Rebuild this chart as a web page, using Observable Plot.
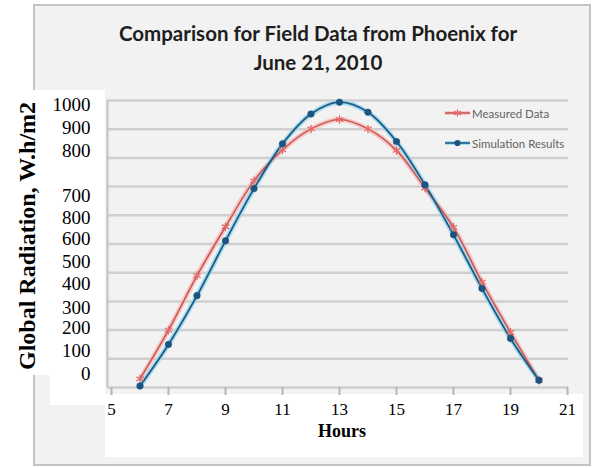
<!DOCTYPE html>
<html>
<head>
<meta charset="utf-8">
<script src="https://cdn.jsdelivr.net/npm/d3@7"></script>
<script src="https://cdn.jsdelivr.net/npm/@observablehq/plot@0.6"></script>
<style>
  html, body { margin: 0; padding: 0; background: #ffffff; }
  #wrap { position: relative; width: 595px; height: 468px; overflow: hidden; }
  .abs { position: absolute; }
  #frame { left: 33px; top: 4px; width: 554px; height: 458px; border: 2px solid #c4c4c4; background: #f2f2f2; }
  .white { background: #ffffff; }
  #title { left: 0; width: 636px; top: 18.5px; text-align: center; font-family: Lato, "Open Sans", sans-serif; font-weight: 700; font-size: 20.5px; line-height: 29px; color: #1e1e1e; z-index: 3; }
  #ytitle { left: 27px; top: 236px; transform: translate(-50%, -50%) rotate(-90deg); font-family: "Liberation Serif", serif; font-weight: 700; font-size: 24px; white-space: nowrap; color: #000; z-index: 3; }
  #xtitle { left: 342px; top: 431px; transform: translate(-50%, -50%); font-family: "Liberation Serif", serif; font-weight: 700; font-size: 18px; color: #000; z-index: 3; }
  #legend { left: 444px; top: 104px; font-family: Lato, sans-serif; font-size: 11.5px; color: #636363; z-index: 3; }
  #legend .row { display: flex; align-items: center; height: 18px; margin-bottom: 12px; }
  #legend svg { margin-right: 1px; }
  #chart { left: 0; top: 0; z-index: 2; }
  #chart svg { background: transparent !important; }
  #chart g[aria-label="x-axis tick"] path { stroke: #b5b5b5; stroke-width: 2px; }
</style>
</head>
<body>
<div id="wrap">
  <div id="frame" class="abs"></div>
  <div class="abs white" style="left:0px; top:90px; width:50px; height:285px;"></div>
  <div class="abs white" style="left:50px; top:90px; width:55px; height:315px;"></div>
  <div class="abs white" style="left:105px; top:394px; width:478px; height:63px;"></div>
  <div id="title" class="abs">Comparison for Field Data from Phoenix for<br>June 21, 2010</div>
  <div id="ytitle" class="abs">Global Radiation, W.h/m2</div>
  <div id="xtitle" class="abs">Hours</div>
  <div id="legend" class="abs"></div>
  <div id="chart" class="abs"></div>
</div>
<script>
// ---- data ----
const hours = [6, 7, 8, 9, 10, 11, 12, 13, 14, 15, 16, 17, 18, 19, 20];
const measured = [30, 200, 390, 560, 720, 828, 901, 934, 901, 826, 695, 558, 367, 192, 25];
const simulation = [5, 150, 320, 511, 693, 849, 953, 994, 959, 857, 706, 532, 345, 171, 25];

// axis ticks / labels as printed in the reference (y labels are pasted, misaligned)
const xTicks = [5, 7, 9, 11, 13, 15, 17, 19, 21];
const gridValues = [0, 100, 200, 300, 400, 500, 600, 700, 800, 900, 1000];
const yLabelText = ["1000", "900", "800", "700", "800", "600", "500", "400", "300", "200", "100", "0"];
const yLabelAt = [983, 906, 826, 669, 592, 519, 436, 362, 279, 206, 129, 49];

const seriesNames = ["Measured Data", "Simulation Results"];
const colors = { measuredCore: "#cc5753", measuredGlow: "#f5bcbc", measuredMark: "#e46a6a",
                 simCore: "#23577f", simGlow: "#8fd8f0", simMark: "#1b5480" };

const mData = hours.map((h, i) => ({ hour: h, value: measured[i] }));
const sData = hours.map((h, i) => ({ hour: h, value: simulation[i] }));

const chart = Plot.plot({
  width: 595,
  height: 468,
  marginLeft: 111,
  marginRight: 28,
  marginTop: 100,
  marginBottom: 81,
  style: { fontFamily: "'Liberation Serif', serif", background: "transparent", overflow: "visible" },
  x: { domain: [5, 21], label: null },
  y: { domain: [0, 1000], label: null },
  marks: [
    Plot.ruleY(gridValues, { stroke: "#cfcfcf", strokeWidth: 2.5, insetLeft: -4, insetRight: -1 }),
    Plot.ruleX([5], { stroke: "#c2c2c2", strokeWidth: 2, dx: -4 }),
    Plot.axisX({ ticks: xTicks, tickSize: 8, tickPadding: 7, fontSize: 17, color: "#000", tickFormat: d => String(d) }),
    Plot.axisY({ ticks: yLabelAt, tickSize: 0, tickPadding: 21, fontSize: 19, color: "#000",
                 tickFormat: (d) => yLabelText[yLabelAt.indexOf(d)] }),
    Plot.line(mData, { x: "hour", y: "value", curve: "catmull-rom", stroke: colors.measuredGlow, strokeWidth: 5, strokeOpacity: 0.8 }),
    Plot.line(sData, { x: "hour", y: "value", curve: "catmull-rom", stroke: colors.simGlow, strokeWidth: 5, strokeOpacity: 0.8 }),
    Plot.line(mData, { x: "hour", y: "value", curve: "catmull-rom", stroke: colors.measuredCore, strokeWidth: 1.6 }),
    Plot.line(sData, { x: "hour", y: "value", curve: "catmull-rom", stroke: colors.simCore, strokeWidth: 1.8 }),
    Plot.dot(mData, { x: "hour", y: "value", symbol: "asterisk", r: 4, stroke: colors.measuredMark, strokeWidth: 1.3 }),
    Plot.dot(sData, { x: "hour", y: "value", symbol: "circle", r: 3.3, fill: colors.simMark, stroke: colors.simMark, strokeWidth: 0.5 })
  ]
});
document.getElementById("chart").appendChild(chart);

// legend
const legend = document.getElementById("legend");
const sw = [
  { core: colors.measuredCore, glow: colors.measuredGlow, mark: "asterisk", mc: colors.measuredMark },
  { core: colors.simCore, glow: colors.simGlow, mark: "circle", mc: colors.simMark }
];
seriesNames.forEach((name, i) => {
  const row = document.createElement("div");
  row.className = "row";
  const s = sw[i];
  const ns = "http://www.w3.org/2000/svg";
  const svg = document.createElementNS(ns, "svg");
  svg.setAttribute("width", 27); svg.setAttribute("height", 12);
  const g = document.createElementNS(ns, "line");
  g.setAttribute("x1", 1); g.setAttribute("x2", 26); g.setAttribute("y1", 6); g.setAttribute("y2", 6);
  g.setAttribute("stroke", s.glow); g.setAttribute("stroke-width", 4); g.setAttribute("stroke-opacity", 0.8);
  svg.appendChild(g);
  const l = document.createElementNS(ns, "line");
  l.setAttribute("x1", 1); l.setAttribute("x2", 26); l.setAttribute("y1", 6); l.setAttribute("y2", 6);
  l.setAttribute("stroke", s.core); l.setAttribute("stroke-width", 1.6);
  svg.appendChild(l);
  const p = document.createElementNS(ns, "path");
  const sym = s.mark === "asterisk" ? d3.symbolAsterisk : d3.symbolCircle;
  p.setAttribute("d", d3.symbol(sym, s.mark === "asterisk" ? 40 : 30)());
  p.setAttribute("transform", "translate(13.5,6)");
  if (s.mark === "asterisk") { p.setAttribute("fill", "none"); p.setAttribute("stroke", s.mc); p.setAttribute("stroke-width", 1.2); }
  else { p.setAttribute("fill", s.mc); }
  svg.appendChild(p);
  row.appendChild(svg);
  const t = document.createElement("span");
  t.textContent = name;
  row.appendChild(t);
  legend.appendChild(row);
});
</script>
</body>
</html>
